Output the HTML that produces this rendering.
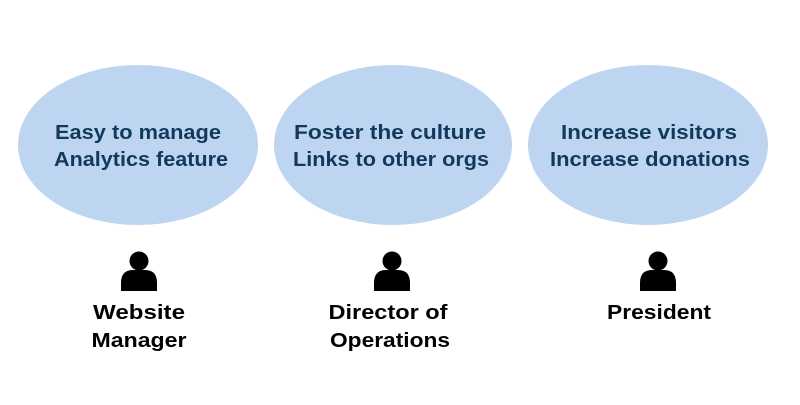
<!DOCTYPE html>
<html><head><meta charset="utf-8"><style>html,body{margin:0;padding:0;background:#fff}</style></head>
<body>
<svg width="800" height="400" viewBox="0 0 800 400" xmlns="http://www.w3.org/2000/svg">
<rect width="800" height="400" fill="#fff"/>
<g fill="#bdd5f0">
<ellipse cx="138" cy="145" rx="120" ry="80"/>
<ellipse cx="393" cy="145" rx="119" ry="80"/>
<ellipse cx="648" cy="145" rx="120" ry="80"/>
</g>
<g font-family="Liberation Sans, sans-serif" font-size="20" fill="#12395c" text-anchor="middle" font-weight="bold">
<text x="138" y="139" textLength="166" lengthAdjust="spacingAndGlyphs">Easy to manage</text>
<text x="141" y="166" textLength="174" lengthAdjust="spacingAndGlyphs">Analytics feature</text>
<text x="390" y="139" textLength="192" lengthAdjust="spacingAndGlyphs">Foster the culture</text>
<text x="391" y="166" textLength="196" lengthAdjust="spacingAndGlyphs">Links to other orgs</text>
<text x="649" y="139" textLength="176" lengthAdjust="spacingAndGlyphs">Increase visitors</text>
<text x="650" y="166" textLength="200" lengthAdjust="spacingAndGlyphs">Increase donations</text>
</g>
<defs>
<g id="p" fill="#000">
<circle cx="0" cy="0" r="9.5"/>
<path d="M-18 30 L-18 22 Q-18 9 -6 9 L6 9 Q18 9 18 22 L18 30 Z"/>
</g>
</defs>
<use href="#p" x="139" y="261"/>
<use href="#p" x="392" y="261"/>
<use href="#p" x="658" y="261"/>
<g font-family="Liberation Sans, sans-serif" font-size="20" fill="#000" text-anchor="middle" font-weight="bold">
<text x="139" y="319" textLength="92" lengthAdjust="spacingAndGlyphs">Website</text>
<text x="139" y="347" textLength="95" lengthAdjust="spacingAndGlyphs">Manager</text>
<text x="388" y="319" textLength="119" lengthAdjust="spacingAndGlyphs">Director of</text>
<text x="390" y="347" textLength="120" lengthAdjust="spacingAndGlyphs">Operations</text>
<text x="659" y="319" textLength="104" lengthAdjust="spacingAndGlyphs">President</text>
</g>
</svg>
</body></html>
